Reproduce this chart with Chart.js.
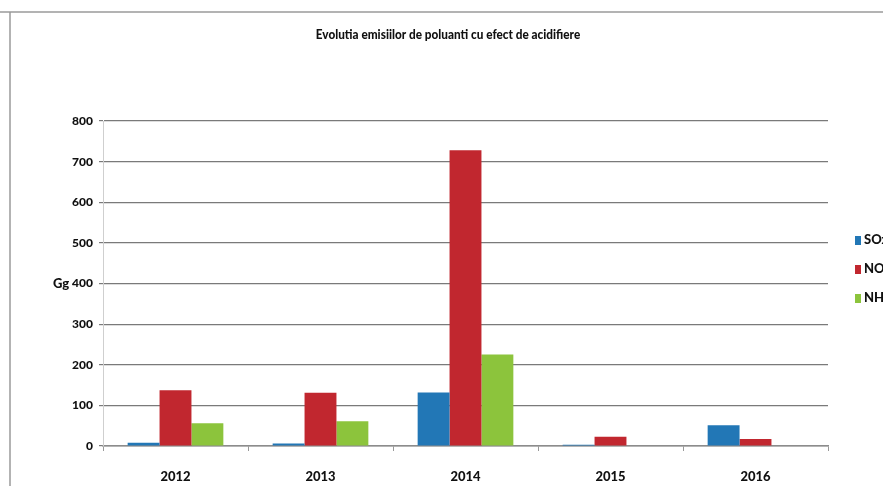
<!DOCTYPE html>
<html>
<head>
<meta charset="utf-8">
<script src="https://cdn.jsdelivr.net/npm/chart.js@4"></script>
<style>
  html, body { margin: 0; padding: 0; background: #fff; overflow: hidden; }
  #wrap { width: 883px; height: 486px; }
</style>
</head>
<body>
<div id="wrap"><canvas id="graph" width="883" height="486"></canvas></div>
<script>
// Data
var years = ['2012', '2013', '2014', '2015', '2016'];
var sox = [8, 6, 132, 3, 51];
var nox = [137, 131, 728, 23, 17];
var nh3 = [56, 61, 225, 1, 0];
var yTicks = [0, 100, 200, 300, 400, 500, 600, 700, 800];

var chartTitle = 'Evolutia emisiilor de poluanti cu efect de acidifiere';
var unitLabel = 'Gg';
var FONT = "Lato, 'Liberation Sans Narrow', sans-serif";

// frame of the scanned page, title, unit label and legend on the right
var decor = {
    id: 'decor',
    beforeDraw: function(chart) {
        var ctx = chart.ctx;
        ctx.save();
        ctx.strokeStyle = '#9a9a9a';
        ctx.lineWidth = 1.5;
        ctx.beginPath();
        ctx.moveTo(0, 12);
        ctx.lineTo(883, 12);
        ctx.moveTo(10, 12);
        ctx.lineTo(10, 486);
        ctx.stroke();
        ctx.restore();
    },
    afterDraw: function(chart) {
        var ctx = chart.ctx;
        ctx.save();
        ctx.fillStyle = '#111';
        ctx.textBaseline = 'middle';
        ctx.textAlign = 'center';
        ctx.font = '900 14px ' + FONT;
        ctx.save();
        ctx.translate(448, 34);
        ctx.scale(0.84, 1);
        ctx.fillText(chartTitle, 0, 0);
        ctx.restore();

        ctx.font = '900 13px ' + FONT;
        ctx.textAlign = 'left';
        ctx.fillText(unitLabel, 53, 284);

        var rows = [240, 269, 298];
        chart.data.datasets.forEach(function(ds, i) {
            ctx.fillStyle = ds.backgroundColor;
            ctx.fillRect(855, rows[i] - 4, 6, 9);
            ctx.fillStyle = '#111';
            ctx.fillText(ds.label, 864, rows[i]);
        });
        ctx.restore();
    }
};

new Chart(document.getElementById('graph'), {
    type: 'bar',
    data: {
        labels: years,
        datasets: [
            { label: 'SOx', data: sox, backgroundColor: '#2277b6' },
            { label: 'NOx', data: nox, backgroundColor: '#c1272f' },
            { label: 'NH3', data: nh3, backgroundColor: '#8cc43c' }
        ]
    },
    options: {
        responsive: false,
        animation: false,
        layout: { padding: { left: 10, right: 55, top: 121, bottom: 0 } },
        categoryPercentage: 0.66,
        barPercentage: 1.0,
        plugins: {
            legend: { display: false },
            title: { display: false },
            tooltip: { enabled: false }
        },
        scales: {
            x: {
                afterFit: function(scale) { scale.height = 40; },
                grid: {
                    offset: true,
                    drawOnChartArea: false,
                    drawTicks: true,
                    tickLength: 5,
                    color: '#999'
                },
                border: { color: '#8c8c8c', width: 1.5 },
                ticks: {
                    padding: 18,
                    color: '#111',
                    font: { family: FONT, size: 13, weight: '900' }
                }
            },
            y: {
                min: 0,
                max: 800,
                afterFit: function(scale) { scale.width = 93; },
                afterBuildTicks: function(scale) {
                    scale.ticks = yTicks.map(function(v) { return { value: v }; });
                },
                grid: {
                    color: '#7a7a7a',
                    lineWidth: 1.2,
                    tickLength: 4
                },
                border: { color: '#cfcfcf', width: 1 },
                ticks: {
                    padding: 6,
                    color: '#111',
                    font: { family: FONT, size: 12, weight: '900' }
                }
            }
        }
    },
    plugins: [decor]
});
</script>
</body>
</html>
